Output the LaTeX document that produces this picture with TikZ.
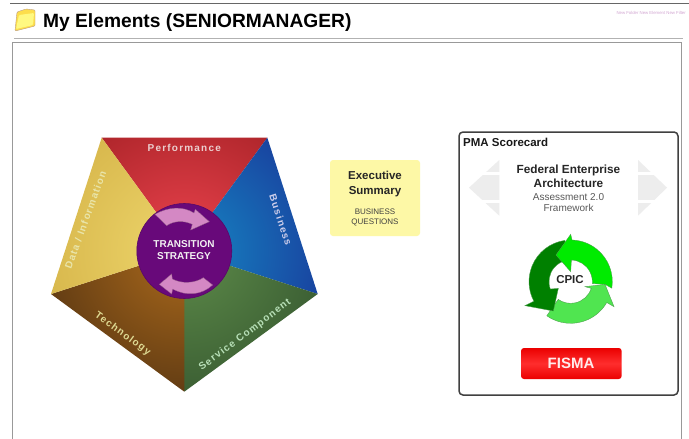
\documentclass[tikz,border=0pt]{standalone}
\usepackage{fontspec}
\usetikzlibrary{calc}
\setmainfont{Liberation Sans}
\newfontfamily\spacedfont[LetterSpace=12]{Liberation Sans}
\definecolor{pink1}{HTML}{D488C4}
\definecolor{perfo}{HTML}{981A1E}\definecolor{perfi}{HTML}{EC444E}
\definecolor{buso}{HTML}{1A1A8A}\definecolor{busi}{HTML}{1688C4}
\definecolor{servo}{HTML}{2A4828}\definecolor{servi}{HTML}{5E8C4A}
\definecolor{techo}{HTML}{38220E}\definecolor{techi}{HTML}{AC6A1C}
\definecolor{datao}{HTML}{C49C30}\definecolor{datai}{HTML}{EED66C}
\definecolor{hubc}{HTML}{68097A}
\definecolor{execc}{HTML}{FDF8A6}
\begin{document}
\begin{tikzpicture}[x=1pt,y=-1pt,
  lbl/.style={font=\spacedfont\bfseries\fontsize{10}{10}\selectfont,inner sep=0pt},
  pink/.style={fill=pink1,draw=pink1!70!black,line width=.3pt},
  greenarrow/.style={draw=green!45!black!70,line width=.35pt},
  fadearrow/.style={fill=black!7,draw=none}]
\useasboundingbox (0,0) rectangle (689,439);
\fill[white] (0,0) rectangle (689,439);
% page chrome
\draw[black!60,line width=1pt] (10,3.5) -- (689,3.5);
\draw[black!30,line width=1pt] (14,38) -- (683,38);
\draw[black!40,line width=.7pt] (12,439) -- (12,42) -- (681,42) -- (681,439);
% folder icon
\fill[yellow!70!orange!70,draw=orange!50!black!50,line width=.4pt,rounded corners=1pt]
  (15,31) -- (17,12) -- (26,9) -- (35,10) -- (35,26) -- cycle;
\fill[yellow!55!white!90,rounded corners=1pt] (16,29) -- (19,15) -- (34,13) -- (33,25) -- cycle;
\node[font=\bfseries\fontsize{19.2}{20}\selectfont,anchor=west,inner sep=0pt] (title) at (43,23) {My Elements (SENIORMANAGER)};
\node[font=\fontsize{4.3}{5}\selectfont,text=violet!35,anchor=east,inner sep=0pt] (links) at (686,13) {New Folder New Element New Filter};
% pentagon
\coordinate (c) at (184.3,251);
\coordinate (tl) at (101.7,137.7);
\coordinate (tr) at (267.3,137.7);
\coordinate (r) at (317.7,294);
\coordinate (b) at (184.3,391.7);
\coordinate (l) at (51,294);
\begin{scope}\clip (tl) -- (tr) -- (c) -- cycle;
\shade[inner color=perfi,outer color=perfo] (c) circle (195);\end{scope}
\begin{scope}\clip (tr) -- (r) -- (c) -- cycle;
\shade[inner color=busi,outer color=buso] (c) circle (225);\end{scope}
\begin{scope}\clip (r) -- (b) -- (c) -- cycle;
\shade[inner color=servi,outer color=servo] (c) circle (215);\end{scope}
\begin{scope}\clip (b) -- (l) -- (c) -- cycle;
\shade[inner color=techi,outer color=techo] (c) circle (225);\end{scope}
\begin{scope}\clip (l) -- (tl) -- (c) -- cycle;
\shade[inner color=datai,outer color=datao] (c) circle (270);\end{scope}
\node[circle,fill=hubc,draw=hubc!85!black,line width=.6pt,minimum size=95,inner sep=0pt] (hub) at (c) {};
\node[lbl,text=red!12!white!92!black] (perf) at (184.3,147.7) {Performance};
\node[lbl,text=yellow!30!white!90!black,rotate=70] (data) at (85.5,220) {Data / Information};
\node[lbl,text=blue!12!white!92!black,rotate=-72] (bus) at (280.7,220) {Business};
\node[lbl,text=yellow!40!white!85!black,rotate=-36] (tech) at (122.7,334) {Technology};
\node[lbl,text=green!18!white!88!black,rotate=37] (serv) at (245,335) {Service Component};
% hub arrows (drawn on a 3x grid)
\begin{scope}[xshift=40pt,yshift=-125pt,x=0.33333pt,y=-0.33333pt]
\draw[pink] (345,268) .. controls (385,245) and (430,243) .. (462,264) -- (466,253) -- (508,290) -- (452,315) -- (457,298)
  .. controls (430,285) and (400,288) .. (380,302) -- cycle;
\draw[pink] (518,480) .. controls (485,510) and (440,515) .. (398,492) -- (395,507) -- (358,478) -- (395,447) -- (397,462)
  .. controls (425,477) and (465,475) .. (490,458) -- cycle;
\end{scope}
\node[font=\bfseries\fontsize{10}{12.7}\selectfont,text=white!95!black,align=center,inner sep=0pt] (hubtext) at (184,250) {TRANSITION\\STRATEGY};
% executive summary
\node[fill=execc,rounded corners=3pt,minimum width=90,minimum height=76,inner sep=0pt] (exec) at (375,198) {};
\node[font=\bfseries\fontsize{11.5}{14.5}\selectfont,align=center,text=black!85,inner sep=0pt] (exect) at (375,184) {Executive\\Summary};
\node[font=\fontsize{8}{10}\selectfont,align=center,text=black!75,inner sep=0pt] (execs) at (375,217.5) {BUSINESS\\QUESTIONS};
% scorecard
\draw[black!75,line width=1.5pt,rounded corners=4pt,fill=white] (459,132) rectangle (678,395);
\node[font=\bfseries\fontsize{11.5}{12}\selectfont,anchor=west,inner sep=0pt,text=black!90] (pma) at (463,142) {PMA Scorecard};
% faded arrows
\fill[fadearrow] (469,187.7) -- (499.3,160) -- (499.3,215.7) -- cycle;
\fill[fadearrow] (667,187.7) -- (638,160) -- (638,215.7) -- cycle;
\foreach \yy in {172,200}{
  \fill[white] (465,\yy) rectangle (503,\yy+3);
  \fill[white] (635,\yy) rectangle (670,\yy+3);
}
\node[font=\bfseries\fontsize{11.8}{14.5}\selectfont,align=center,text=black!85,inner sep=0pt] (fea) at (568.5,176.5) {Federal Enterprise\\Architecture};
\node[font=\fontsize{10}{11.5}\selectfont,align=center,text=black!65,inner sep=0pt] (assess) at (568.5,202.5) {Assessment 2.0\\Framework};
% CPIC cycle (3x grid)
\begin{scope}[xshift=450pt,yshift=-225pt,x=0.33333pt,y=-0.33333pt]
\coordinate (g) at (362,170);
\draw[greenarrow,fill=green!65!white!90!black] ($(g)+(125:125)$) arc[start angle=125,end angle=30,radius=125] -- (492,245) -- (465,178) -- (405,185) -- ($(g)+(18:65)$) arc[start angle=18,end angle=125,radius=65] -- cycle;
\draw[greenarrow,fill=green!50!black] ($(g)+(-98:125)$) arc[start angle=-98,end angle=-208,radius=125] -- (225,242) -- (310,258) -- (325,190) -- ($(g)+(160:65)$) arc[start angle=160,end angle=260,radius=65] -- cycle;
\draw[greenarrow,fill=green!92!black] ($(g)+(9:125)$) arc[start angle=9,end angle=-88,radius=125] -- (362,28) -- (318,90) -- (362,140) -- ($(g)+(-88:65)$) arc[start angle=-88,end angle=5,radius=65] -- (465,178) -- cycle;
\end{scope}
\node[font=\bfseries\fontsize{11.5}{12}\selectfont,text=black!85,inner sep=0pt] (cpic) at (570,280) {CPIC};
% FISMA
\shade[rounded corners=3pt,top color=red!92!black,bottom color=red!92!black,middle color=red!82!white] (521,348) rectangle (621.7,379);
\node[font=\bfseries\fontsize{15}{16}\selectfont,text=white!92!red,inner sep=0pt] (fisma) at (571,363) {FISMA};
\end{tikzpicture}
\end{document}
